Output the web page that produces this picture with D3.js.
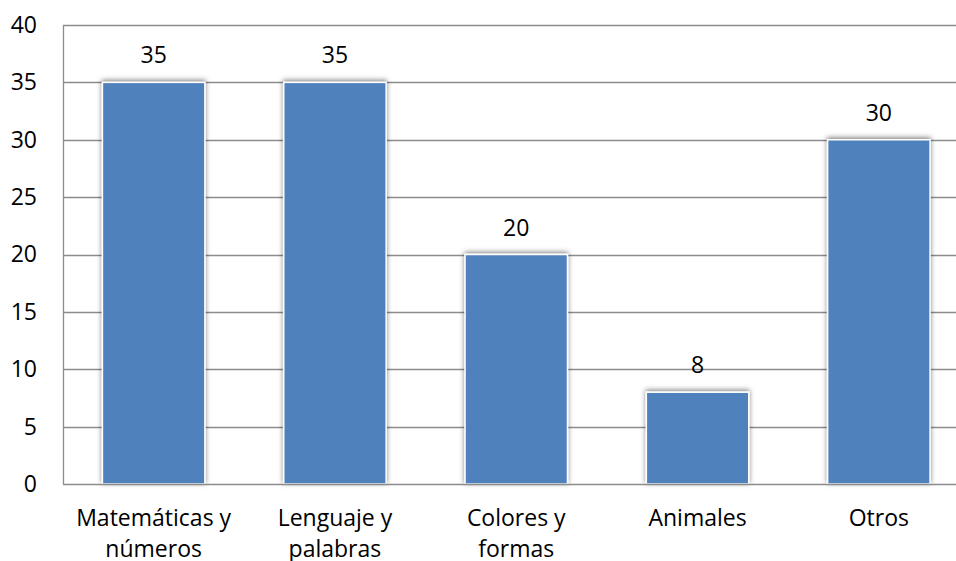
<!DOCTYPE html>
<html>
<head>
<meta charset="utf-8">
<script src="https://cdn.jsdelivr.net/npm/d3@7"></script>
<style>
  html, body { margin: 0; padding: 0; background: #fff; }
  svg { display: block; font-family: "Open Sans", Lato, sans-serif; }
</style>
</head>
<body>
<svg id="chart" width="956" height="561"></svg>
<script>
// Temas preferidos: categorías y valores
const categories = [["Matemáticas y", "números"], ["Lenguaje y", "palabras"], ["Colores y", "formas"], ["Animales"], ["Otros"]];
const values = [35, 35, 20, 8, 30];
const yTicks = [0, 5, 10, 15, 20, 25, 30, 35, 40];

const svg = d3.select("#chart");
const plotLeft = 63, plotRight = 969.5, plotTop = 25, plotBottom = 484;
const fontSize = 23;

const x = d3.scaleBand()
  .domain(d3.range(categories.length))
  .range([plotLeft, plotRight])
  .paddingInner(0.435)
  .paddingOuter(0.2175);

const y = d3.scaleLinear().domain([0, 40]).range([plotBottom, plotTop]);

// Sombra de las barras
const defs = svg.append("defs");
const f = defs.append("filter").attr("id", "shadow")
  .attr("x", "-20%").attr("y", "-20%").attr("width", "140%").attr("height", "140%");
f.append("feDropShadow").attr("dx", 0).attr("dy", -1.5).attr("stdDeviation", 2.8)
  .attr("flood-color", "#000").attr("flood-opacity", 0.5);

// Líneas de cuadrícula
svg.append("g").selectAll("line").data(yTicks.filter(d => d > 0)).join("line")
  .attr("x1", plotLeft).attr("x2", 956)
  .attr("y1", d => Math.round(y(d)) + 0.5).attr("y2", d => Math.round(y(d)) + 0.5)
  .attr("stroke", "#8c8c8c").attr("stroke-width", 1.3);

// Barras
svg.append("g").selectAll("rect").data(values).join("rect")
  .attr("x", (d, i) => x(i))
  .attr("y", d => y(d))
  .attr("width", x.bandwidth())
  .attr("height", d => plotBottom - y(d))
  .attr("fill", "#4f81bd")
  .attr("stroke", "#fff")
  .attr("stroke-width", 1.5)
  .attr("filter", "url(#shadow)");

// Ejes
const yAxis = d3.axisLeft(y).tickValues(yTicks).tickSize(0).tickPadding(26);
const gy = svg.append("g").attr("transform", `translate(${plotLeft},0)`).call(yAxis);
gy.select(".domain").attr("stroke", "#8c8c8c").attr("stroke-width", 1.3);
gy.selectAll("text").attr("font-size", fontSize).attr("fill", "#000")
  .attr("font-family", "'Open Sans', Lato, sans-serif");

svg.append("line")
  .attr("x1", plotLeft).attr("x2", 956).attr("y1", plotBottom + 0.5).attr("y2", plotBottom + 0.5)
  .attr("stroke", "#8c8c8c").attr("stroke-width", 1.6);

// Etiquetas de categoría (la segunda línea llega al borde inferior)
const cat = svg.append("g").selectAll("text").data(categories).join("text")
  .attr("x", (d, i) => x(i) + x.bandwidth() / 2)
  .attr("y", 526)
  .attr("text-anchor", "middle")
  .attr("font-size", fontSize)
  .attr("fill", "#000");
cat.selectAll("tspan").data(d => d).join("tspan")
  .attr("x", function () { return d3.select(this.parentNode).attr("x"); })
  .attr("dy", (d, i) => i === 0 ? 0 : 31)
  .text(d => d);

// Etiquetas de valor
svg.append("g").selectAll("text").data(values).join("text")
  .attr("x", (d, i) => x(i) + x.bandwidth() / 2)
  .attr("y", d => y(d) - 19)
  .attr("text-anchor", "middle")
  .attr("font-size", fontSize)
  .attr("fill", "#000")
  .text(d => d);
</script>
</body>
</html>
